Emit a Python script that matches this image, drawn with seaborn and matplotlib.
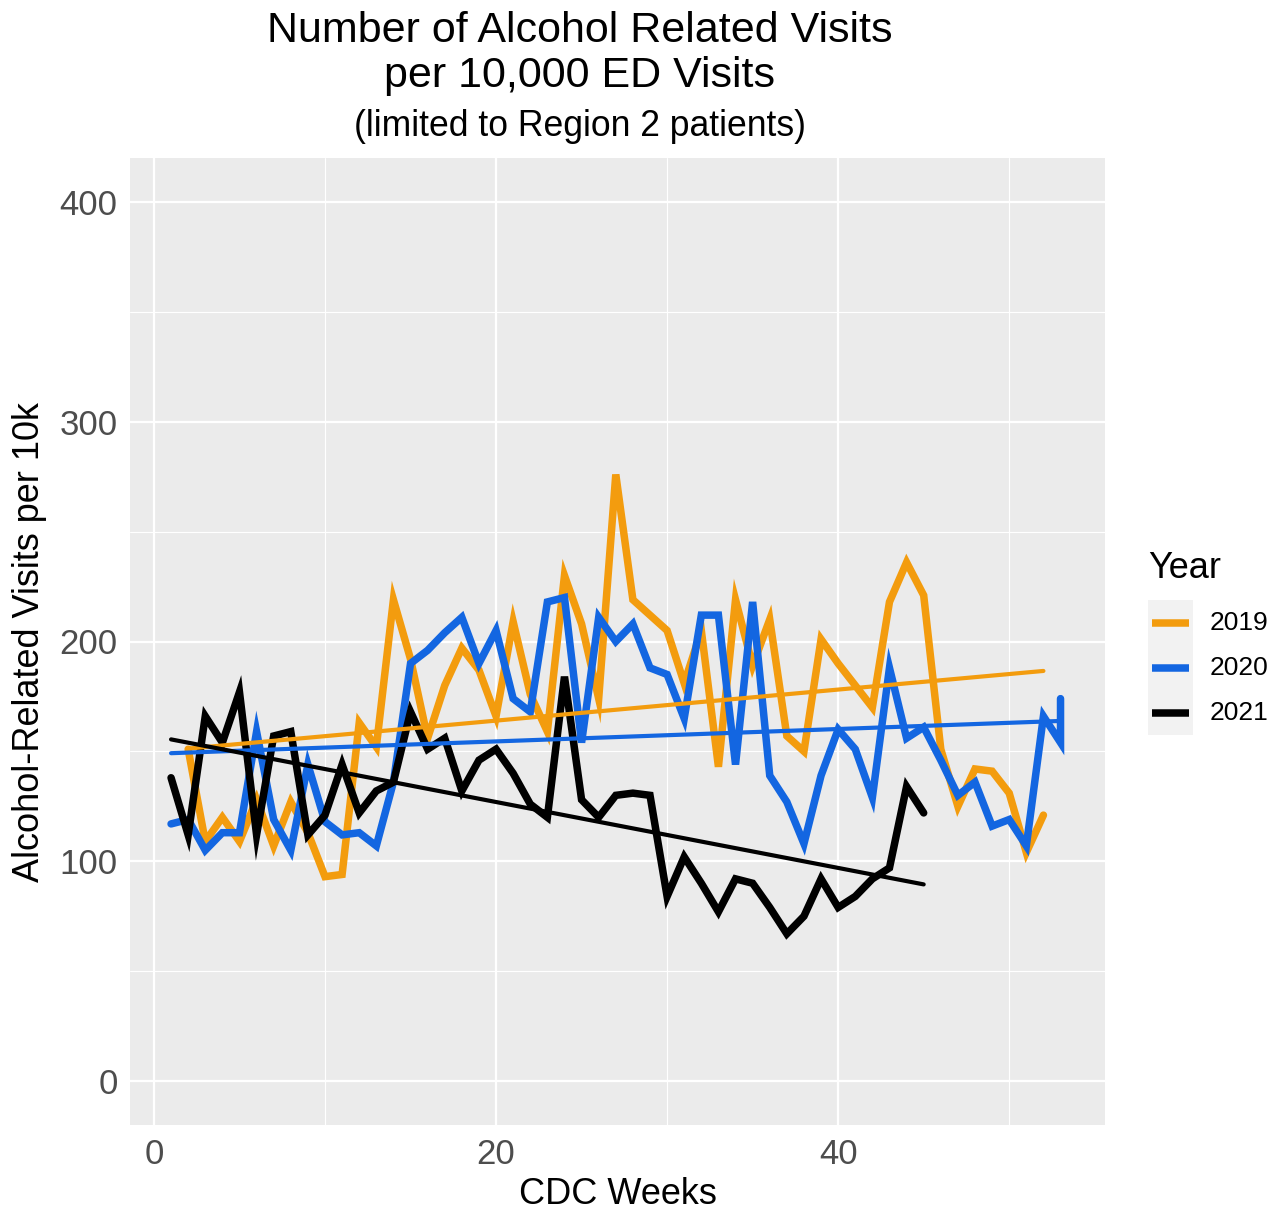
import numpy as np
import pandas as pd
import matplotlib
matplotlib.use("Agg")
import matplotlib.pyplot as plt
import seaborn as sns
from matplotlib.lines import Line2D
from matplotlib.patches import Rectangle

# ---- data ----
weeks_2019 = list(range(2, 53))
visits_2019 = [151, 109, 120, 109, 128, 107, 127, 113, 93, 94,
               163, 152, 219, 192, 156, 180, 197, 187, 166, 209,
               176, 159, 230, 208, 174, 276, 219, 212, 205, 181,
               205, 143, 219, 189, 210, 157, 150, 201, 190, 180,
               170, 218, 236, 221, 151, 125, 142, 141, 131, 104,
               121]

weeks_2020 = list(range(1, 54)) + [53]
visits_2020 = [117, 119, 105, 113, 113, 159, 119, 105, 144, 118,
               112, 113, 107, 136, 190, 196, 204, 211, 190, 205,
               174, 168, 218, 220, 154, 211, 200, 208, 188, 185,
               165, 212, 212, 144, 218, 139, 127, 108, 139, 160,
               151, 129, 188, 156, 161, 146, 130, 136, 116, 119,
               107, 166, 154, 174]

weeks_2021 = list(range(1, 46))
visits_2021 = [138, 112, 166, 154, 177, 112, 157, 159, 112, 121,
               144, 122, 132, 136, 168, 151, 156, 132, 146, 151,
               140, 126, 120, 184, 128, 120, 130, 131, 130, 84,
               102, 90, 77, 92, 90, 79, 67, 75, 92, 79,
               84, 92, 97, 134, 122]

years = ["2019", "2020", "2021"]
colors = ["#F39C0E", "#1366E1", "#000000"]

df = pd.concat([
    pd.DataFrame({"week": weeks_2019, "visits": visits_2019, "Year": "2019"}),
    pd.DataFrame({"week": weeks_2020, "visits": visits_2020, "Year": "2020"}),
    pd.DataFrame({"week": weeks_2021, "visits": visits_2021, "Year": "2021"}),
], ignore_index=True)

W, H = 1283, 1209
sns.set_theme(style="darkgrid", rc={
    "axes.facecolor": "#EBEBEB",
    "grid.color": "white",
    "axes.edgecolor": "#EBEBEB",
})
plt.rcParams["font.family"] = ["Liberation Sans", "DejaVu Sans"]

fig = plt.figure(figsize=(W / 100, H / 100), dpi=100)
fig.patch.set_facecolor("white")
ax = fig.add_axes([130 / W, (H - 1125) / H, 975 / W, 967 / H])

pal = dict(zip(years, colors))
sns.lineplot(data=df, x="week", y="visits", hue="Year", palette=pal,
             estimator=None, linewidth=5.4, ax=ax, legend=False,
             solid_joinstyle="miter")
for yr, c in zip(years, colors):
    sub = df[df["Year"] == yr]
    sns.regplot(data=sub, x="week", y="visits", scatter=False, ci=None,
                truncate=True, color=c, line_kws={"linewidth": 3.0}, ax=ax)

ax.set_xlim(-1.4, 55.6)
ax.set_ylim(-20, 420)
ax.set_xticks([0, 20, 40])
ax.set_yticks([0, 100, 200, 300, 400])
ax.set_xticks([10, 30, 50], minor=True)
ax.set_yticks([50, 150, 250, 350], minor=True)
ax.grid(which="major", color="white", linewidth=1.6)
ax.grid(which="minor", color="white", linewidth=0.8)
ax.set_axisbelow(True)
for s in ax.spines.values():
    s.set_visible(False)
ax.tick_params(axis="both", which="major", length=5, width=1.1,
               color="#333333", labelsize=25, labelcolor="#4D4D4D", pad=4)
ax.tick_params(axis="both", which="minor", length=0)

ax.set_xlabel("CDC Weeks", fontsize=26, color="black", va="center")
ax.set_ylabel("Alcohol-Related Visits per 10k", fontsize=26, color="black", va="center")
ax.xaxis.set_label_coords(0.5, (1125 - 1194) / 967)
ax.yaxis.set_label_coords((30 - 130) / 975, 0.5)

fig.text(580 / W, 1 - 31 / H, "Number of Alcohol Related Visits", ha="center", va="center",
         fontsize=31, color="black")
fig.text(580 / W, 1 - 76 / H, "per 10,000 ED Visits", ha="center", va="center",
         fontsize=31, color="black")
fig.text(580 / W, 1 - 127 / H, "(limited to Region 2 patients)", ha="center", va="center",
         fontsize=25.6, color="black")

# legend
fig.text(1148 / W, 1 - 569 / H, "Year", ha="left", va="center", fontsize=26, color="black")
fig.add_artist(Rectangle((1148 / W, 1 - 735 / H), 45 / W, 135 / H,
                         transform=fig.transFigure, facecolor="#F2F2F2", edgecolor="none"))
for i, (yr, c) in enumerate(zip(years, colors)):
    yy = 1 - (623 + 45 * i) / H
    fig.add_artist(Line2D([1152 / W, 1189 / W], [yy, yy], transform=fig.transFigure,
                          color=c, linewidth=5.4, solid_capstyle="butt"))
    fig.text(1210 / W, yy, yr, ha="left", va="center", fontsize=19, color="black")

fig.savefig("out.png", dpi=100)
